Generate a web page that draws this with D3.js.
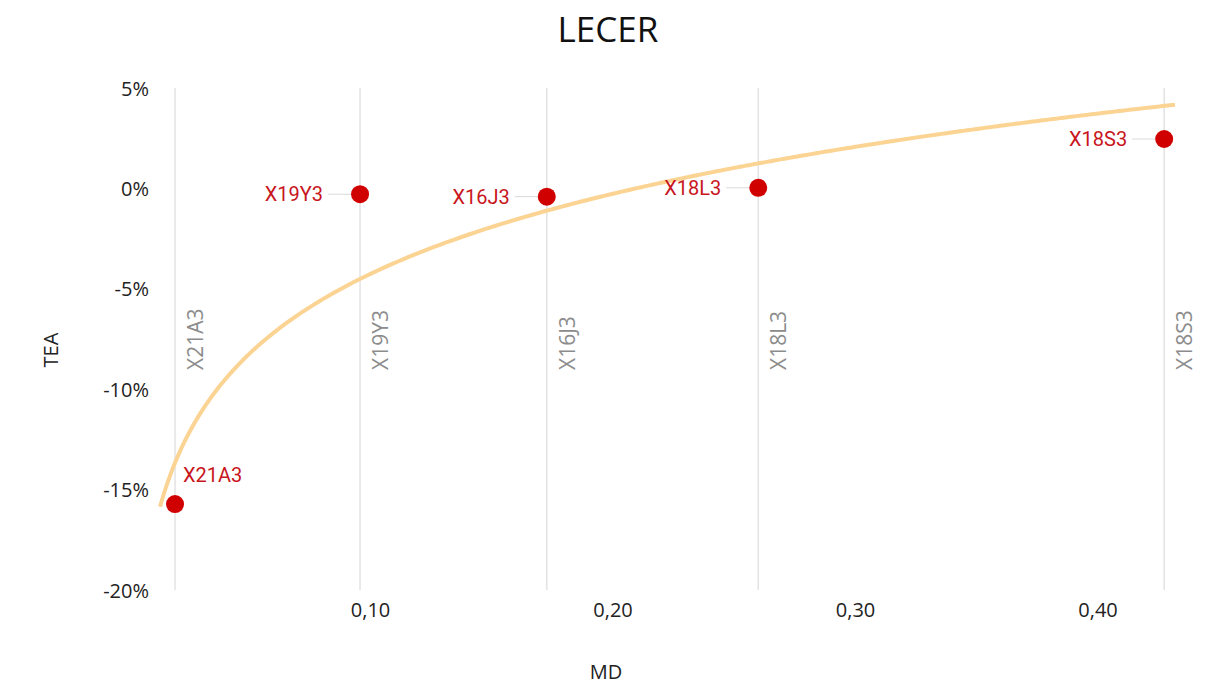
<!DOCTYPE html>
<html><head><meta charset="utf-8">
<script src="https://cdn.jsdelivr.net/npm/d3@7"></script>
<style>body{margin:0;background:#fff}svg{display:block}</style>
</head><body><svg id="c" width="1211" height="684"></svg>
<script>
const names = ["X21A3","X19Y3","X16J3","X18L3","X18S3"];
const md = [0.0196, 0.0959, 0.1729, 0.2601, 0.4275];
const tea = [-15.72, -0.29, -0.41, 0.03, 2.46];
const xTicks = [0.10, 0.20, 0.30, 0.40];
const yTicks = [5, 0, -5, -10, -15, -20];
const title = "LECER", xTitle = "MD", yTitle = "TEA";

const svg = d3.select("#c");
const x = d3.scaleLinear().domain([0.1, 0.4]).range([370, 1097.5]);
const y = d3.scaleLinear().domain([-20, 5]).range([590, 88]);
const xMin = x.invert(160), xMax = x.invert(1175);

// vertical lines at points
svg.append("g").selectAll("line").data(md).join("line")
  .attr("x1", d => x(d)).attr("x2", d => x(d)).attr("y1", y(5)).attr("y2", y(-20))
  .attr("stroke", "#e3e3e3").attr("stroke-width", 1.5);
svg.append("g").selectAll("text").data(md).join("text")
  .attr("transform", d => `translate(${x(d)+28},370) rotate(-90)`)
  .attr("font-family", "Open Sans").attr("font-size", 21).attr("fill", "#8c8c8c")
  .text((d, i) => names[i]);

// axes
const yAx = svg.append("g").attr("transform", "translate(149,0)")
  .call(d3.axisLeft(y).tickValues(yTicks).tickSize(0).tickPadding(0).tickFormat(d => d + "%"));
yAx.select(".domain").remove();
yAx.selectAll("text").attr("font-family", "Open Sans").attr("font-size", 20).attr("fill", "#222").attr("dy", "0.35em");
const xAx = svg.append("g").attr("transform", "translate(0,600)")
  .call(d3.axisBottom(x).tickValues(xTicks).tickSize(0).tickPadding(0).tickFormat(d => d3.format(".2f")(d).replace(".", ",")));
xAx.select(".domain").remove();
xAx.selectAll("text").attr("font-family", "Open Sans").attr("font-size", 20).attr("fill", "#222").attr("dy", "0.71em").attr("y", 3);

// titles
svg.append("text").attr("x", 608).attr("y", 42).attr("text-anchor", "middle")
  .attr("font-family", "Open Sans").attr("font-size", 35).attr("fill", "#111").text(title);
svg.append("text").attr("x", 606).attr("y", 679).attr("text-anchor", "middle")
  .attr("font-family", "Open Sans").attr("font-size", 20).attr("fill", "#222").text(xTitle);
svg.append("text").attr("transform", "translate(58,350) rotate(-90)").attr("text-anchor", "middle")
  .attr("font-family", "Open Sans").attr("font-size", 20).attr("fill", "#222").text(yTitle);

// logarithmic trend (least squares on ln(MD))
const lx = md.map(Math.log);
const mx = d3.mean(lx), my = d3.mean(tea);
const b = d3.sum(lx.map((v, i) => (v - mx) * (tea[i] - my))) / d3.sum(lx.map(v => (v - mx) ** 2));
const a = my - b * mx;
const trend = d3.range(0, 201).map(k => { const xv = xMin + (xMax - xMin) * k / 200; return [xv, a + b * Math.log(xv)]; });
svg.append("path").datum(trend)
  .attr("d", d3.line().x(d => x(d[0])).y(d => y(d[1])).curve(d3.curveMonotoneX))
  .attr("fill", "none").attr("stroke", "#fbd494").attr("stroke-width", 4);

// points & labels
const pts = md.map((d, i) => ({ x: d, y: tea[i], n: names[i], i }));
const lab = svg.append("g");
pts.forEach(p => {
  const cx = x(p.x), cy = y(p.y);
  if (p.i === 0) {
    lab.append("text").attr("x", cx + 8).attr("y", cy - 29).attr("dy", "0.35em")
      .attr("font-family", "Roboto").attr("font-size", 20).attr("fill", "#c8161d").text(p.n);
  } else {
    lab.append("line").attr("x1", cx - 32).attr("x2", cx - 9).attr("y1", cy).attr("y2", cy)
      .attr("stroke", "#d9d9d9").attr("stroke-width", 1);
    lab.append("text").attr("x", cx - 37).attr("y", cy).attr("dy", "0.35em").attr("text-anchor", "end")
      .attr("font-family", "Roboto").attr("font-size", 20).attr("fill", "#c8161d").text(p.n);
  }
});
svg.append("g").selectAll("circle").data(pts).join("circle")
  .attr("cx", d => x(d.x)).attr("cy", d => y(d.y)).attr("r", 9).attr("fill", "#d10000");
</script></body></html>
